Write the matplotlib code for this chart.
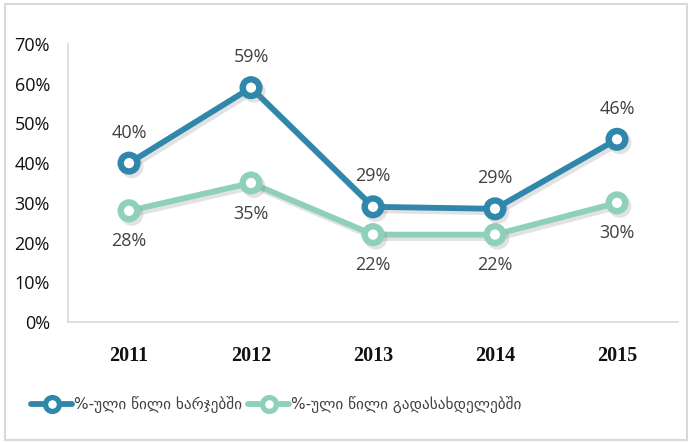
import matplotlib
matplotlib.use("Agg")
import matplotlib.pyplot as plt
import matplotlib.patheffects as pe
from matplotlib.lines import Line2D
from matplotlib.patches import Rectangle

years = ["2011", "2012", "2013", "2014", "2015"]
share_expenses = [0.40, 0.59, 0.29, 0.285, 0.46]
share_taxpayers = [0.28, 0.35, 0.22, 0.22, 0.30]
label_expenses = ["40%", "59%", "29%", "29%", "46%"]
label_taxpayers = ["28%", "35%", "22%", "22%", "30%"]
series_names = ["%-ული წილი ხარჯებში", "%-ული წილი გადასახდელებში"]
yticks = [0, 0.1, 0.2, 0.3, 0.4, 0.5, 0.6, 0.7]
ytick_labels = ["0%", "10%", "20%", "30%", "40%", "50%", "60%", "70%"]

blue = "#2F87AC"
green = "#8FD0B9"
text_grey = "#404040"
axis_grey = "#D9D9D9"

fig = plt.figure(figsize=(6.9, 4.42), dpi=100)
fig.patch.set_facecolor("white")
fig.patches.append(Rectangle((0.007, 0.005), 0.988, 0.985, transform=fig.transFigure,
                             fill=False, edgecolor="#D9D9D9", linewidth=1.5))

ax = fig.add_axes([0.0986, 0.2715, 0.884, 0.629])
x = list(range(len(years)))

shadow = [pe.SimpleLineShadow(offset=(2.0, -2.5), shadow_color="#7f7f7f", alpha=0.22),
          pe.Normal()]

for vals, col in [(share_taxpayers, green), (share_expenses, blue)]:
    ax.plot(x, vals, color=col, lw=4.2, marker="o", markersize=12,
            markerfacecolor="white", markeredgecolor=col, markeredgewidth=4.6,
            solid_capstyle="round", path_effects=shadow, zorder=3)

for i, (v, s) in enumerate(zip(share_expenses, label_expenses)):
    ax.annotate(s, (i, v), xytext=(0, 22), textcoords="offset points",
                ha="center", va="center", fontsize=13, color=text_grey,
                family="Open Sans")
for i, (v, s) in enumerate(zip(share_taxpayers, label_taxpayers)):
    ax.annotate(s, (i, v), xytext=(0, -22), textcoords="offset points",
                ha="center", va="center", fontsize=13, color=text_grey,
                family="Open Sans")

ax.set_xlim(-0.5, len(years) - 0.5)
ax.set_ylim(0, 0.7)
ax.set_yticks(yticks)
ax.set_yticklabels(ytick_labels, fontsize=13, color="#111111", family="Open Sans")
ax.set_xticks(x)
ax.set_xticklabels(years, fontsize=14.5, fontweight="bold", family="Liberation Serif",
                   color="#111111")
ax.tick_params(axis="x", length=0, pad=17)
ax.tick_params(axis="y", length=0, pad=13)
for side in ["top", "right"]:
    ax.spines[side].set_visible(False)
for side in ["left", "bottom"]:
    ax.spines[side].set_color(axis_grey)
    ax.spines[side].set_linewidth(1.2)

handles = [Line2D([0], [0], color=c, lw=4.2, marker="o", markersize=10,
                  markerfacecolor="white", markeredgecolor=c, markeredgewidth=3.8,
                  solid_capstyle="round")
           for c in (blue, green)]
fig.legend(handles, series_names, loc="center left", bbox_to_anchor=(0.025, 0.084),
           ncol=2, frameon=False, handlelength=2.7, handletextpad=0.1,
           columnspacing=0.4, prop={"family": "DejaVu Sans", "size": 11},
           labelcolor=text_grey)

fig.savefig("out.png", dpi=100, facecolor="white")
